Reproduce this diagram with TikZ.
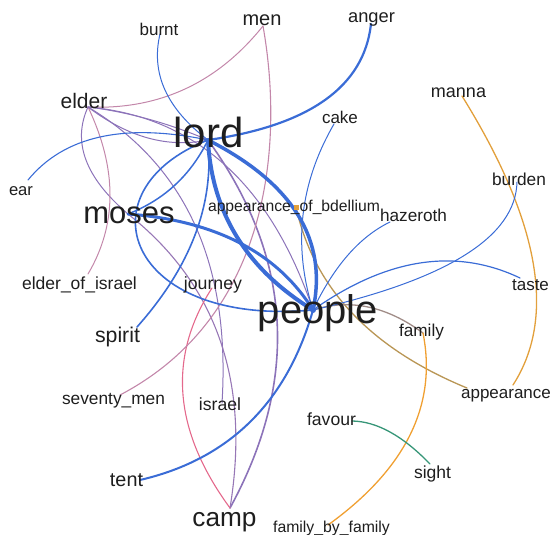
\documentclass[tikz,border=0pt]{standalone}
\usepackage{fontspec}
\setmainfont{Liberation Sans}
\usetikzlibrary{calc}
\definecolor{eblue}{RGB}{58,108,214}
\definecolor{epurple}{RGB}{140,115,185}
\definecolor{emauve}{RGB}{195,135,170}
\definecolor{epink}{RGB}{228,105,140}
\definecolor{eorange}{RGB}{226,160,60}
\definecolor{eorangeb}{RGB}{240,160,50}
\definecolor{eolive}{RGB}{185,150,85}
\definecolor{egrey}{RGB}{160,140,135}
\definecolor{egreen}{RGB}{55,150,120}
\definecolor{txt}{RGB}{30,30,30}
\tikzset{
  edge/.style={line cap=round},
  lab/.style={inner sep=0pt, anchor=base, text=txt},
  fs/.style={font=\fontsize{#1}{#1}\selectfont}
}
% quadratic-looking edge from #2 to #4 passing through point #3 at its middle
\newcommand\quadedge[4]{%
  \coordinate (qmid) at (#3);
  \coordinate (qctl) at ($2*(qmid)-0.5*(#2)-0.5*(#4)$);
  \draw[edge,#1] (#2) .. controls ($(#2)!2/3!(qctl)$) and ($(#4)!2/3!(qctl)$) .. (#4);}
\begin{document}
\begin{tikzpicture}[x=1pt,y=-1pt]
\useasboundingbox (0,0) rectangle (552,535);
% node points
\coordinate (burnt) at (160,34);
\coordinate (men) at (263,26);
\coordinate (anger) at (371,24);
\coordinate (elder) at (88,107);
\coordinate (lord) at (208,140);
\coordinate (cake) at (334,124);
\coordinate (manna) at (462,96);
\coordinate (burden) at (517,182);
\coordinate (ear) at (28,180);
\coordinate (moses) at (128,214);
\coordinate (bdel) at (296,207);
\coordinate (hazeroth) at (390,222);
\coordinate (eoi) at (88,274);
\coordinate (journey) at (212,288);
\coordinate (people) at (313,310);
\coordinate (taste) at (520,278);
\coordinate (spirit) at (137,327);
\coordinate (family) at (423,333);
\coordinate (seventy) at (120,395);
\coordinate (israel) at (222,403);
\coordinate (appearance) at (467,388);
\coordinate (appearanceb) at (513,385);
\coordinate (favour) at (352,421);
\coordinate (sight) at (430,464);
\coordinate (tent) at (140,480);
\coordinate (camp) at (230,508);
\coordinate (fbf) at (328,525);

% purple / pink edges
\quadedge{emauve,line width=1pt}{elder}{185,89}{men}
\quadedge{epurple,line width=1pt}{elder}{148,119}{lord}
\quadedge{epurple,line width=1pt}{elder}{148,138}{lord}
\quadedge{epurple,line width=1pt}{elder}{86,160}{moses}
\quadedge{emauve,line width=1pt}{elder}{110,195}{eoi}
\quadedge{epurple,line width=1pt}{elder}{195,225}{israel}
\quadedge{epurple,line width=1pt}{elder}{225,165}{people}
\quadedge{epurple,line width=1.6pt}{lord}{277,320}{camp}
\quadedge{epurple!80!emauve,line width=1.1pt}{moses}{220,340}{camp}
\quadedge{epink,line width=1.1pt}{journey}{183,395}{camp}
\draw[edge,emauve,line width=1.1pt] (men) .. controls (285,150) and (267,318) .. (seventy);

% orange / green edges
\quadedge{eorange,line width=1.3pt}{manna}{533,262}{appearanceb}
\quadedge{eolive,line width=1.3pt}{bdel}{352,313}{appearance}
\quadedge{egrey,line width=1.3pt}{people}{368,307}{family}
\quadedge{eorangeb,line width=1.3pt}{family}{410,435}{fbf}
\quadedge{egreen,line width=1.3pt}{favour}{390,432}{sight}

% blue edges
\quadedge{eblue,line width=1pt}{burnt}{165,90}{lord}
\quadedge{eblue,line width=2.2pt}{anger}{325,100}{lord}
\quadedge{eblue,line width=1.1pt}{ear}{100,137}{lord}
\quadedge{eblue,line width=1.5pt}{lord}{175,185}{moses}
\draw[edge,eblue,line width=1.6pt] (lord) .. controls (80,190) and (125,327) .. (people);
\quadedge{eblue,line width=1.6pt}{spirit}{195,235}{lord}
\quadedge{eblue,line width=3pt}{moses}{240,243}{people}
\quadedge{eblue,line width=4pt}{lord}{237,237}{people}
\quadedge{eblue,line width=3.5pt}{lord}{298,215}{people}
\quadedge{eblue,line width=2pt}{tent}{250,422}{people}
\quadedge{eblue,line width=1pt}{cake}{303,215}{people}
\quadedge{eblue,line width=1pt}{hazeroth}{348,255}{people}
\quadedge{eblue,line width=1pt}{burden}{465,255}{people}
\quadedge{eblue,line width=1.2pt}{people}{420,263}{taste}

% markers
\fill[eorange] ($(bdel)+(-2.5,-2.5)$) rectangle ($(bdel)+(2.5,2.5)$);
\fill[eblue] (people) circle (3);

% labels
\node[lab,fs=17] (burntL) at (159,36) {burnt};
\node[lab,fs=20] (menL) at (262,26) {men};
\node[lab,fs=18.3] (angerL) at (371.5,23) {anger};
\node[lab,fs=21] (elderL) at (84,108) {elder};
\node[lab,fs=42] (lordL) at (208.5,147) {lord};
\node[lab,fs=17] (cakeL) at (340,123) {cake};
\node[lab,fs=18] (mannaL) at (458.5,98) {manna};
\node[lab,fs=17.3] (burdenL) at (519,185) {burden};
\node[lab,fs=16.6] (earL) at (21,195) {ear};
\node[lab,fs=31] (mosesL) at (129,223) {moses};
\node[lab,fs=15.7] (bdelL) at (294,211) {appearance\_of\_bdellium};
\node[lab,fs=17.2] (hazerothL) at (413.5,221.5) {hazeroth};
\node[lab,fs=17.5] (eoiL) at (79.5,289.5) {elder\_of\_israel};
\node[lab,fs=17.7] (journeyL) at (213,289) {journey};
\node[lab,fs=40] (peopleL) at (318,323) {people};
\node[lab,fs=17] (tasteL) at (530.5,290) {taste};
\node[lab,fs=21.3] (spiritL) at (117.5,342) {spirit};
\node[lab,fs=17.2] (familyL) at (421.5,336.5) {family};
\node[lab,fs=17.3] (seventyL) at (113.5,404) {seventy\_men};
\node[lab,fs=17.6] (israelL) at (220,410) {israel};
\node[lab,fs=17] (appearanceL) at (506,398) {appearance};
\node[lab,fs=17.6] (favourL) at (331.5,425) {favour};
\node[lab,fs=17.5] (sightL) at (432.5,478) {sight};
\node[lab,fs=19.8] (tentL) at (126.5,486) {tent};
\node[lab,fs=26.2] (campL) at (224.5,526) {camp};
\node[lab,fs=15.8] (fbfL) at (331.5,532) {family\_by\_family};
\end{tikzpicture}
\end{document}
